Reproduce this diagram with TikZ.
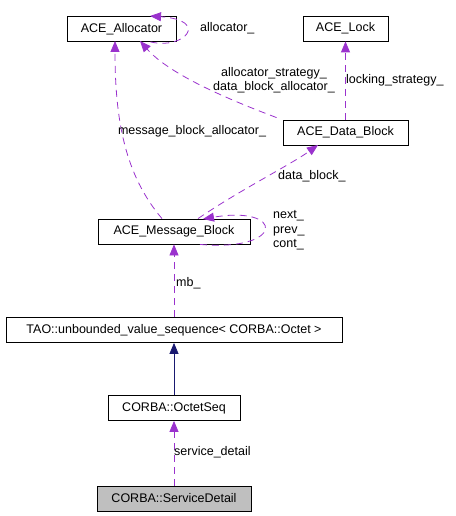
\documentclass[tikz,border=0pt]{standalone}
\usepackage{fontspec}
\setmainfont{Liberation Sans}
\usetikzlibrary{arrows.meta}
\definecolor{edgepurple}{HTML}{9A32CD}
\definecolor{edgenavy}{HTML}{191970}
\tikzset{
    cls/.style={rectangle, draw, line width=0.8pt, minimum height=25pt, inner sep=2pt, font=\fontsize{12.5}{14}\selectfont},
    lbl/.style={font=\fontsize{12.5}{14}\selectfont, inner sep=0pt, align=left},
    usage/.style={edgepurple, dashed, dash pattern=on 7pt off 5pt, line width=0.8pt, -{Triangle[length=11pt,width=9pt]}},
    inherit/.style={edgenavy, line width=0.8pt, -{Triangle[length=11pt,width=9pt]}},
}

\begin{document}
\begin{tikzpicture}[x=1pt, y=-1pt]
    \useasboundingbox (0,0) rectangle (455,516);
    \node[cls, minimum width=109pt] (alloc) at (121.5,29) {ACE\_Allocator};
    \node[cls, minimum width=85pt] (lock) at (345.5,28.5) {ACE\_Lock};
    \node[cls, minimum width=125pt] (dblock) at (345.5,132.5) {ACE\_Data\_Block};
    \node[cls, minimum width=152pt] (mblock) at (174,231.5) {ACE\_Message\_Block};
    \node[cls, minimum width=336pt] (seq) at (174,330) {TAO::unbounded\_value\_sequence< CORBA::Octet >};
    \node[cls, minimum width=132pt] (octet) at (174,408) {CORBA::OctetSeq};
    \node[cls, minimum width=154pt, fill=black!25] (detail) at (174,498.5) {CORBA::ServiceDetail};
    % relations
    \draw[usage] (alloc.south east) ++(-26,0) .. controls (185,50) and (210,20) .. (150,16);
    \draw[usage] (dblock.north west) ++(-6,-2) .. controls (230,100) and (170,75) .. (140,41);
    \draw[usage] (mblock.north) ++(-12,0) .. controls (125,175) and (115,120) .. (115,41);
    \draw[usage] (dblock.north) -- (lock.south);
    \draw[usage] (mblock.north) ++(24,0) .. controls (240,190) and (290,165) .. (318,145);
    \draw[usage] (mblock.south) ++(26,0) .. controls (285,252) and (285,205) .. (203,219);
    \draw[usage] (seq.north) -- (mblock.south);
    \draw[inherit] (octet.north) -- (seq.south);
    \draw[usage] (detail.north) -- (octet.south);
    % labels
    \node[lbl, anchor=west] (lalloc) at (200,28) {allocator\_};
    \node[lbl, align=center] (ldblock) at (274,80.5) {allocator\_strategy\_\\data\_block\_allocator\_};
    \node[lbl] (lmblock) at (192,131) {message\_block\_allocator\_};
    \node[lbl, anchor=west] (llock) at (346,80) {locking\_strategy\_};
    \node[lbl, anchor=west] (ldata) at (278,176) {data\_block\_};
    \node[lbl, anchor=west] (lnext) at (273,216) {next\_};
    \node[lbl, anchor=west] (lprev) at (273,231) {prev\_};
    \node[lbl, anchor=west] (lcont) at (273,245) {cont\_};
    \node[lbl, anchor=west] (lmb) at (176,283) {mb\_};
    \node[lbl, anchor=west] (ldetail) at (174,452) {service\_detail};
\end{tikzpicture}
\end{document}
